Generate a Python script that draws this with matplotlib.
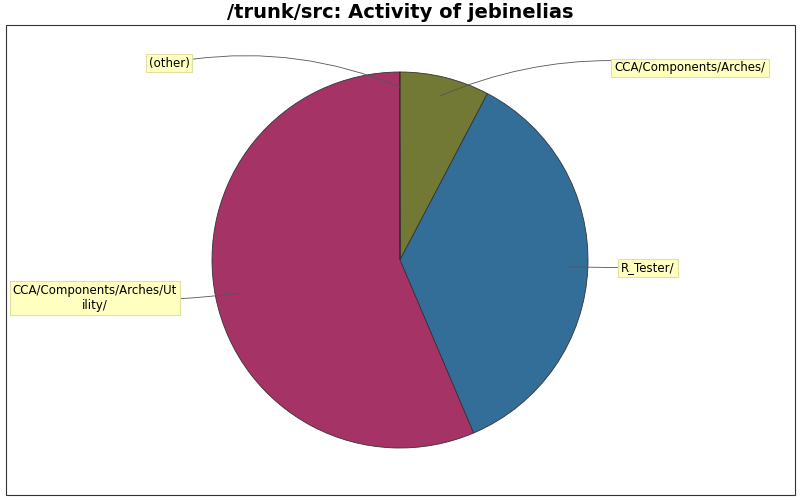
import numpy as np
import matplotlib.pyplot as plt
from matplotlib.patches import Rectangle

labels = ["CCA/Components/Arches/", "R_Tester/", "CCA/Components/Arches/Ut\nility/", "(other)"]
values = [7.7, 35.9, 56.35, 0.05]
colors = ["#727934", "#336e99", "#a63366", "#a0a0a0"]

H = 500

fig = plt.figure(figsize=(8, 5), dpi=100)
ax = fig.add_axes([0, 0, 1, 1])

# frame (pixel coords, y measured from top)
ax.add_patch(Rectangle((6, H - 495), 789, 470, fill=False, edgecolor="#333333", lw=0.8))
ax.text(400, H - 13, "/trunk/src: Activity of jebinelias", ha="center", va="center",
        fontsize=14, fontweight="bold")

cx, cy, r = 400, H - 260, 188
wedges, _ = ax.pie(values, colors=colors, startangle=90, counterclock=False,
                   center=(cx, cy), radius=r, frame=True,
                   wedgeprops=dict(edgecolor="#333333", linewidth=0.6))
ax.set_xlim(0, 800)
ax.set_ylim(0, H)
ax.set_aspect("equal")
ax.axis("off")

# label box centers and anchor radius factors
label_pos = [(690, H - 68), (648, H - 268), (95, H - 298), (169, H - 63)]
anchor_r = [0.9, 0.9, 0.88, 0.92]
rads = [0.15, 0.0, 0.05, -0.15]
box = dict(boxstyle="square,pad=0.25", fc="#ffffc0", ec="#e0e0a0", lw=0.8)
for w, lab, pos, fr, rad in zip(wedges, labels, label_pos, anchor_r, rads):
    mid = np.deg2rad((w.theta1 + w.theta2) / 2)
    pt = (cx + r * fr * np.cos(mid), cy + r * fr * np.sin(mid))
    ax.annotate(lab, xy=pt, xytext=pos, ha="center", va="center",
                fontsize=8.5, bbox=box,
                arrowprops=dict(arrowstyle="-", color="#555555", lw=0.6,
                                shrinkA=0, shrinkB=0,
                                connectionstyle=f"arc3,rad={rad}"))

fig.savefig("out.png", dpi=100)
